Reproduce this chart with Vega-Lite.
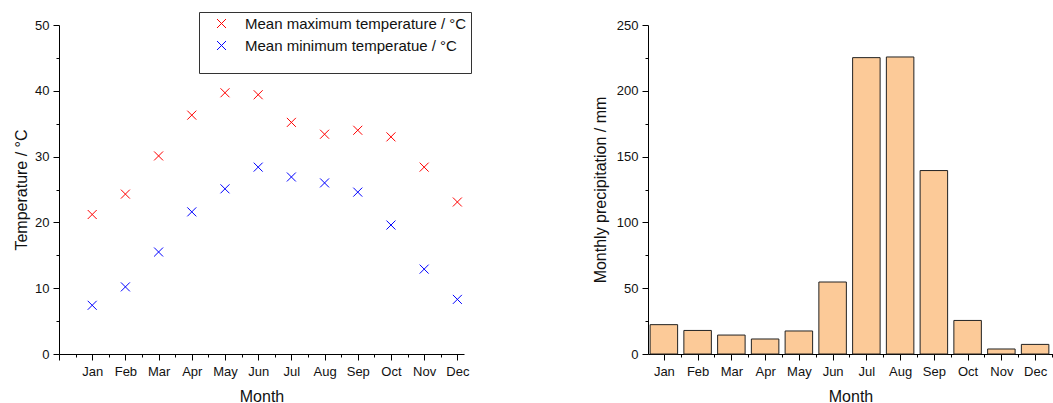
{
  "$schema": "https://vega.github.io/schema/vega-lite/v6.json",
  "autosize": {"type": "pad"},
  "padding": {"left": 13, "top": 11, "right": 0, "bottom": 0},
  "background": "white",
  "spacing": 184,
  "bounds": "flush",
  "config": {
    "font": "Liberation Sans",
    "view": {"stroke": null},
    "axis": {
      "grid": false,
      "domainColor": "#000",
      "tickColor": "#000",
      "labelColor": "#111",
      "titleColor": "#111",
      "labelFont": "Liberation Sans",
      "titleFont": "Liberation Sans",
      "labelFontSize": 13,
      "titleFontSize": 16,
      "titleFontWeight": "normal",
      "domainWidth": 1,
      "tickWidth": 1
    }
  },
  "hconcat": [
    {
      "width": 405,
      "height": 329,
      "data": {
        "values": [
          {"m": 1, "max": 21.2, "min": 7.4},
          {"m": 2, "max": 24.3, "min": 10.2},
          {"m": 3, "max": 30.1, "min": 15.5},
          {"m": 4, "max": 36.3, "min": 21.6},
          {"m": 5, "max": 39.7, "min": 25.1},
          {"m": 6, "max": 39.4, "min": 28.4},
          {"m": 7, "max": 35.2, "min": 26.9},
          {"m": 8, "max": 33.4, "min": 26.0},
          {"m": 9, "max": 34.0, "min": 24.6},
          {"m": 10, "max": 33.0, "min": 19.6},
          {"m": 11, "max": 28.4, "min": 12.9},
          {"m": 12, "max": 23.1, "min": 8.3}
        ]
      },
      "layer": [
        {
          "mark": {"type": "point", "shape": "M-1,-1L1,1M1,-1L-1,1", "size": 81, "strokeWidth": 1, "filled": false, "opacity": 1},
          "encoding": {
            "x": {
              "field": "m", "type": "quantitative",
              "scale": {"domain": [0, 12.2], "nice": false, "zero": false},
              "axis": {
                "orient": "bottom",
                "values": [0, 1, 2, 3, 4, 5, 6, 7, 8, 9, 10, 11, 12],
                "labelExpr": "datum.value >= 1 ? ['Jan','Feb','Mar','Apr','May','Jun','Jul','Aug','Sep','Oct','Nov','Dec'][datum.value - 1] : ''",
                "tickSize": 6, "labelPadding": 5, "title": "Month", "titlePadding": 10, "labelFlush": false, "labelOverlap": false
              }
            },
            "y": {
              "field": "max", "type": "quantitative",
              "scale": {"domain": [0, 50], "nice": false},
              "axis": {"orient": "left", "values": [0, 10, 20, 30, 40, 50], "tickSize": 6, "labelPadding": 4, "title": "Temperature / °C", "titlePadding": 5}
            },
            "color": {
              "datum": "Mean maximum temperature / °C", "type": "nominal",
              "scale": {"domain": ["Mean maximum temperature / °C", "Mean minimum temperatue / °C"], "range": ["#ff0000", "#0000ff"]},
              "legend": {
                "orient": "none", "legendX": 140, "legendY": -13,
                "title": " ", "titleOrient": "bottom", "titleFontSize": 11, "titlePadding": 4,
                "padding": 4, "strokeColor": "#333", "fillColor": "white",
                "symbolType": "M-1,-1L1,1M1,-1L-1,1", "symbolSize": 81, "symbolStrokeWidth": 1, "symbolOffset": 11,
                "labelFontSize": 15, "labelOffset": 16, "labelLimit": 500, "labelColor": "#111", "rowPadding": 6,
                "encode": {"symbols": {"update": {"stroke": {"scale": "color", "field": "value"}, "fill": {"value": "transparent"}}}}
              }
            }
          }
        },
        {
          "mark": {"type": "point", "shape": "M-1,-1L1,1M1,-1L-1,1", "size": 81, "strokeWidth": 1, "filled": false, "opacity": 1},
          "encoding": {
            "x": {
              "field": "m", "type": "quantitative",
              "axis": {"orient": "bottom", "values": [0.5, 1.5, 2.5, 3.5, 4.5, 5.5, 6.5, 7.5, 8.5, 9.5, 10.5, 11.5], "tickSize": 3, "labels": false, "domain": false, "title": null}
            },
            "y": {
              "field": "min", "type": "quantitative",
              "axis": {"orient": "left", "values": [5, 15, 25, 35, 45], "tickSize": 3, "labels": false, "domain": false, "title": null}
            },
            "color": {"datum": "Mean minimum temperatue / °C", "type": "nominal"}
          }
        }
      ],
      "resolve": {"axis": {"x": "independent", "y": "independent"}}
    },
    {
      "width": 405,
      "height": 329,
      "data": {
        "values": [
          {"m": 1, "p": 22.3},
          {"m": 2, "p": 17.9},
          {"m": 3, "p": 14.4},
          {"m": 4, "p": 11.4},
          {"m": 5, "p": 17.5},
          {"m": 6, "p": 54.7},
          {"m": 7, "p": 225.2},
          {"m": 8, "p": 225.7},
          {"m": 9, "p": 139.4},
          {"m": 10, "p": 25.5},
          {"m": 11, "p": 3.8},
          {"m": 12, "p": 7.3}
        ]
      },
      "layer": [
        {
          "mark": {"type": "bar", "width": 27.5, "fill": "#fcca98", "stroke": "#222", "strokeWidth": 1},
          "encoding": {
            "x": {
              "field": "m", "type": "quantitative",
              "scale": {"domain": [0.53, 12.53], "nice": false, "zero": false, "padding": 0},
              "axis": {
                "orient": "bottom",
                "values": [1, 2, 3, 4, 5, 6, 7, 8, 9, 10, 11, 12],
                "labelExpr": "['Jan','Feb','Mar','Apr','May','Jun','Jul','Aug','Sep','Oct','Nov','Dec'][datum.value - 1]",
                "tickSize": 6, "labelPadding": 5, "title": "Month", "titlePadding": 10, "labelFlush": false, "labelOverlap": false
              }
            },
            "y": {
              "field": "p", "type": "quantitative",
              "scale": {"domain": [0, 250], "nice": false},
              "axis": {"orient": "left", "values": [0, 50, 100, 150, 200, 250], "tickSize": 6, "labelPadding": 4, "title": "Monthly precipitation / mm", "titlePadding": 8}
            }
          }
        },
        {
          "mark": {"type": "bar", "width": 27.5, "opacity": 0},
          "encoding": {
            "x": {
              "field": "m", "type": "quantitative",
              "axis": {"orient": "bottom", "values": [1.5, 2.5, 3.5, 4.5, 5.5, 6.5, 7.5, 8.5, 9.5, 10.5, 11.5, 12.5], "tickSize": 3, "labels": false, "domain": false, "title": null}
            },
            "y": {
              "field": "p", "type": "quantitative",
              "axis": {"orient": "left", "values": [25, 75, 125, 175, 225], "tickSize": 3, "labels": false, "domain": false, "title": null}
            }
          }
        }
      ],
      "resolve": {"axis": {"x": "independent", "y": "independent"}}
    }
  ]
}
